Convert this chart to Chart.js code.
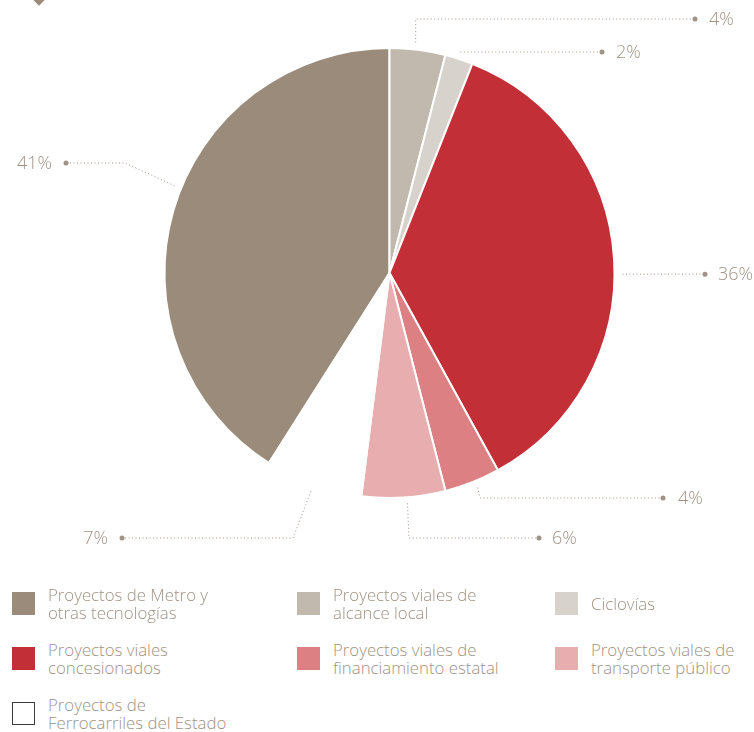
<!DOCTYPE html>
<html><head><meta charset="utf-8">
<script src="https://cdn.jsdelivr.net/npm/chart.js@4"></script>
<style>
html,body{margin:0;padding:0;background:#fff;width:754px;height:732px;overflow:hidden;}
#wrap{position:relative;width:754px;height:732px;font-family:'Open Sans',sans-serif;}
#c{position:absolute;left:0;top:0;}
.marker{position:absolute;left:34.5px;top:-4.5px;width:8px;height:8px;background:#9b8b7b;transform:rotate(45deg);}
.leg{position:absolute;display:flex;align-items:center;}
.box{width:23px;height:23px;box-sizing:border-box;flex:none;}
.txt{color:#a09385;font-size:16.8px;line-height:18px;font-weight:300;margin-left:13px;white-space:nowrap;}
</style></head>
<body><div id="wrap"><div class="marker"></div><canvas id="c" width="754" height="600"></canvas><div id="legend"></div></div>
<script>
// ---- data ----
const CATEGORIES = [
  ["Proyectos de Metro y","otras tecnologías"],
  ["Proyectos viales de","alcance local"],
  ["Ciclovías"],
  ["Proyectos viales","concesionados"],
  ["Proyectos viales de","financiamiento estatal"],
  ["Proyectos viales de","transporte público"],
  ["Proyectos de","Ferrocarriles del Estado"]
];
const VALUES = [41, 4, 2, 36, 4, 6, 7];
const COLORS = ["#9b8b7b","#c1b8ae","#d7d2cb","#c32f36","#dc8083","#e8adae","#ffffff"];
const TEXT_COLOR = "#a09385";

// ---- layout of leader lines (annotation positions) ----
const LEADERS = [
  {f:0.54, gap:7, path:[[125,163],[66,163]], align:"right", dx:-14},
  {f:0.45, gap:7, path:[[null,19],[695,19]], align:"left", dx:14},
  {f:0.47, gap:7, path:[[602,null]], align:"left", dx:14},
  {f:0.53, gap:8, path:[[705,null]], align:"left", dx:13},
  {f:0.45, gap:7, path:[[480,498],[663,498]], align:"left", dx:15},
  {f:0.46, gap:6, path:[[409,538],[539,538]], align:"left", dx:13},
  {f:0.50, gap:7, path:[[293,538],[122,538]], align:"right", dx:-14}
];
const LEGEND_POS = [[12,592],[297,592],[555,592],[12,647],[297,647],[555,647],[12,702]];

const leaderPlugin = {
  id:'leaders',
  afterDatasetsDraw(chart){
    const ctx = chart.ctx;
    const meta = chart.getDatasetMeta(0);
    meta.data.forEach((arc,i)=>{
      const L = LEADERS[i];
      const p = arc.getProps(['x','y','startAngle','endAngle','outerRadius'], true);
      const a = p.startAngle + (p.endAngle - p.startAngle)*L.f;
      const r = p.outerRadius + L.gap;
      let px = p.x + Math.cos(a)*r, py = p.y + Math.sin(a)*r;
      const pts = [[px,py]];
      L.path.forEach(q=>{
        px = q[0]===null ? px : q[0];
        py = q[1]===null ? py : q[1];
        pts.push([px,py]);
      });
      ctx.save();
      ctx.strokeStyle = TEXT_COLOR; ctx.fillStyle = TEXT_COLOR;
      ctx.lineWidth = 1; ctx.setLineDash([1,2.5]);
      ctx.beginPath(); ctx.moveTo(pts[0][0],pts[0][1]);
      for (let k=1;k<pts.length;k++) ctx.lineTo(pts[k][0],pts[k][1]);
      ctx.stroke();
      ctx.setLineDash([]);
      const e = pts[pts.length-1];
      ctx.beginPath(); ctx.arc(e[0],e[1],2.5,0,Math.PI*2); ctx.fill();
      ctx.font = '300 18px "Open Sans"';
      ctx.textBaseline = 'middle'; ctx.textAlign = L.align;
      ctx.fillText(VALUES[i]+'%', e[0]+L.dx, e[1]+1);
      ctx.restore();
    });
  }
};

new Chart(document.getElementById('c'), {
  type:'pie',
  data:{labels:CATEGORIES, datasets:[{data:VALUES, backgroundColor:COLORS, borderColor:'#ffffff', borderWidth:2}]},
  options:{
    responsive:false, animation:false,
    rotation: -VALUES[0]/100*360,
    layout:{padding:{top:47,left:163.5,right:138.5,bottom:101}},
    plugins:{legend:{display:false}, tooltip:{enabled:false}},
    events:[]
  },
  plugins:[leaderPlugin]
});

// HTML legend
const legend = document.getElementById('legend');
CATEGORIES.forEach((lines,i)=>{
  const d = document.createElement('div'); d.className='leg';
  d.style.left = LEGEND_POS[i][0]+'px'; d.style.top = LEGEND_POS[i][1]+'px'; d.style.height='23px';
  const b = document.createElement('div'); b.className='box';
  b.style.background = COLORS[i];
  if (COLORS[i]==='#ffffff') b.style.border='1px solid #3c3c3c';
  const t = document.createElement('div'); t.className='txt';
  t.innerHTML = lines.join('<br>');
  d.appendChild(b); d.appendChild(t); legend.appendChild(d);
});
</script></body></html>
